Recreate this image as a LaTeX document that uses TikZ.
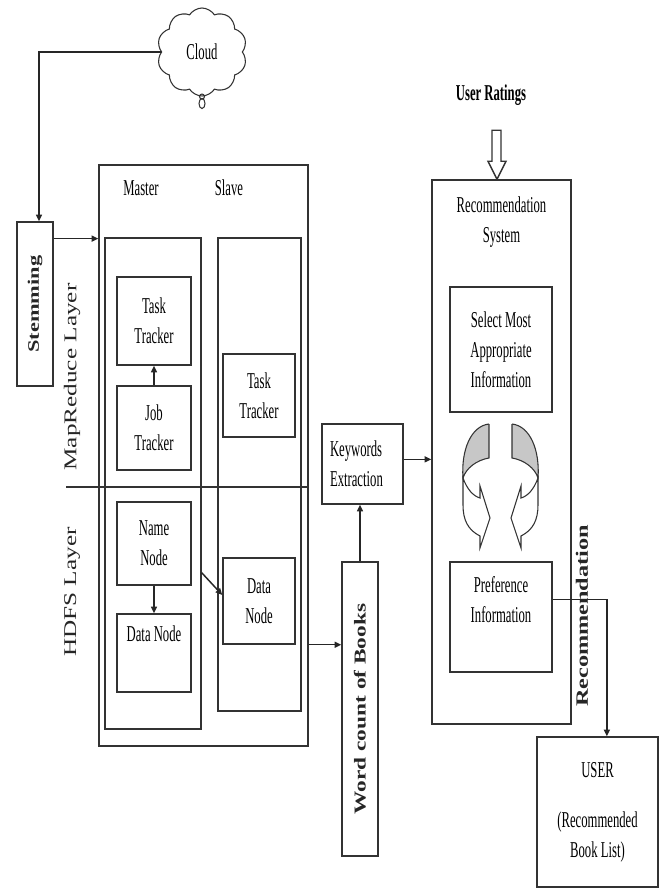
\documentclass[tikz,border=0pt]{standalone}
\usepackage{fontspec}
\setmainfont{Liberation Serif}[FakeStretch=0.56]
\newfontfamily\widefont{Liberation Serif}[FakeStretch=1.4]
\usetikzlibrary{shapes.symbols, arrows.meta, positioning, calc}
\tikzstyle{box} = [rectangle, draw=black!80, line width=1.1pt, inner sep=0pt,
                   align=center, font=\fontsize{17}{22.5}\selectfont]
\tikzstyle{txt} = [inner sep=0pt, align=center, font=\fontsize{17}{22.5}\selectfont]
\tikzstyle{vtxt} = [rotate=90, inner sep=0pt, text=black!85,
                    font=\widefont\fontsize{13.5}{16}\selectfont]
\tikzstyle{line} = [line width=1.1pt, draw=black!80]
\tikzstyle{arrow} = [-{Triangle[length=5pt,width=4.5pt]}, line width=1.1pt, draw=black!85]
\tikzset{wh/.style 2 args={minimum width=#1*0.75pt, minimum height=#2*0.75pt}}

\begin{document}
\begin{tikzpicture}[x=0.75pt, y=-0.75pt]
    \useasboundingbox (0,0) rectangle (664,888);

    % Cloud and stemming
    \node[cloud, draw=black!80, line width=0.8pt, cloud puffs=10, cloud puff arc=115,
          txt, wh={90}{88}] (cloud) at (202,52) {Cloud};
    \draw[line, line width=0.8pt] (cloud.south) circle[radius=2.5];
    \draw[line, line width=0.8pt] ($(cloud.south)+(0,7)$) ellipse[x radius=3, y radius=5];
    \node[box, wh={36}{164}] (stem) at (35,304) {};
    \node[vtxt, font=\widefont\bfseries\fontsize{12}{14}\selectfont] (stemtxt) at (stem) {Stemming};

    % Hadoop cluster
    \node[box, wh={209}{581}] (hadoop) at (203.5,455.5) {};
    \node[txt] (master) at (141,188) {Master};
    \node[txt] (slave) at (229,188) {Slave};
    \node[box, wh={96}{491}] (mcol) at (153,483.5) {};
    \node[box, wh={83}{473}] (scol) at (259.5,474.5) {};
    \node[box, wh={74}{88}] (mtask) at (154,321) {Task\\Tracker};
    \node[box, wh={74}{84}] (job) at (154,428) {Job\\Tracker};
    \node[box, wh={72}{83}] (stask) at (259,395.5) {Task\\Tracker};
    \node[box, wh={74}{83}] (name) at (154,543.5) {Name\\Node};
    \node[box, wh={74}{78}] (mdata) at (154,653) {};
    \node[txt] (mdatatxt) at (154,634) {Data Node};
    \node[box, wh={72}{86}] (sdata) at (259,601) {Data\\Node};

    % Layers
    \node[vtxt] (mrlayer) at (72,377) {MapReduce Layer};
    \node[vtxt] (hdfslayer) at (72,592) {HDFS Layer};
    \coordinate (div) at (66,487);
    \draw[line] (div) -- (div -| hadoop.east);

    % Keywords and word count
    \node[box, wh={81}{80}, text width=48.75pt, align=left] (keys) at (362.5,464) {Keywords\\Extraction};
    \node[box, wh={36}{294}] (words) at (360,709) {};
    \node[vtxt, font=\widefont\bfseries\fontsize{12.5}{14}\selectfont] (wordstxt) at (words) {Word count of Books};

    % Recommendation system
    \node[box, wh={139}{544}] (recsys) at (501.5,452) {};
    \node[txt] (rectitle) at (501.5,222) {Recommendation\\System};
    \node[box, wh={102}{125}] (select) at (501,349.5) {Select Most\\Appropriate\\Information};
    \node[box, wh={102}{110}] (pref) at (501,617) {};
    \node[txt] (preftxt) at (501,600) {Preference\\Information};
    \node[txt, font=\bfseries\fontsize{17}{19}\selectfont] (ratings) at (491,95) {User Ratings};
    \node[box, wh={121}{150}] (user) at (597.5,812) {USER\\[15pt](Recommended\\Book List)};
    \node[vtxt, font=\widefont\bfseries\fontsize{13}{15}\selectfont] (rectxt) at (582,616) {Recommendation};

    % Curved arrows
    \foreach \s/\o in {1/0, -1/1001} {
        \begin{scope}[shift={(\o,0)}, xscale=\s]
            \draw[line, line width=0.8pt, fill=black!22] (489,424) -- (489,458)
                .. controls (477,460) and (466,468) .. (463,478)
                .. controls (461,450) and (471,426) .. (489,424);
            \draw[line, line width=0.8pt, fill=white] (463,478)
                .. controls (467,489) and (473,496) .. (480,498) -- (480,486)
                -- (490,518) -- (480,548) -- (480,536)
                .. controls (468,530) and (463,520) .. (463,505) -- cycle;
        \end{scope}
    }

    % Arrows
    \draw[arrow] (cloud.west) -| ([xshift=3pt]stem.north);
    \coordinate (s1) at ([yshift=-13pt]stem.north east);
    \draw[arrow] (s1) -- (s1 -| hadoop.west);
    \draw[arrow] (job.north) -- (mtask.south);
    \draw[arrow] (name.south) -- (mdata.north);
    \draw[arrow] ($(mcol.east |- name.south)+(0,-13)$) -- ($(sdata.west)+(0,-6)$);
    \draw[arrow] (hadoop.east |- sdata.south) -- (words.west |- sdata.south);
    \draw[arrow] (words.north) -- (words.north |- keys.south);
    \draw[arrow] ([yshift=3.5pt]keys.east) -- ([yshift=3.5pt]keys.east -| recsys.west);
    \draw[arrow] ([yshift=13pt]pref.east) -| ([xshift=7pt]user.north);
    \draw[line, fill=white] ($(recsys.north)+(-4.5,0)$) -- ++(9,-18) -- ++(-5,0) -- ++(0,-31)
        -- ++(-9,0) -- ++(0,31) -- ++(-4,0) -- cycle;
\end{tikzpicture}
\end{document}
